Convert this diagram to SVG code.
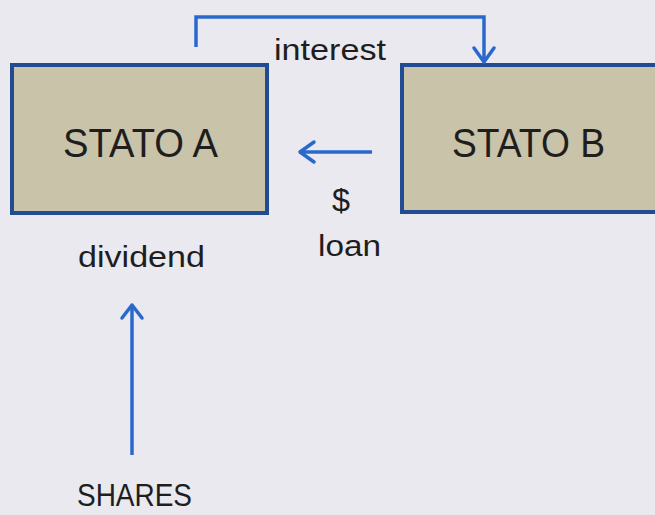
<svg xmlns="http://www.w3.org/2000/svg" width="655" height="515" viewBox="0 0 655 515">
  <style>
    .box { fill: #c8c3a9; stroke: #214c92; stroke-width: 4; }
    .big { font-family: "Liberation Sans", Arial, sans-serif; font-size: 41px; fill: #1e1e1e; }
    .lbl { font-family: "Liberation Sans", Arial, sans-serif; font-size: 29px; fill: #1e1e1e; }
    .lg { font-size: 31px; }
    .wire { fill: none; stroke: #2a68cc; stroke-width: 3.5; }
    .head { fill: none; stroke: #2a68cc; stroke-width: 3.5; stroke-linecap: round; stroke-linejoin: round; }
  </style>
  <rect width="655" height="515" fill="#e9e9ef"/>

  <g id="stato-a">
    <rect class="box" x="12" y="65" width="255" height="148"/>
    <text class="big" x="63" y="157" textLength="155" lengthAdjust="spacingAndGlyphs">STATO A</text>
  </g>

  <g id="stato-b">
    <rect class="box" x="402" y="65" width="260" height="147"/>
    <text class="big" x="452" y="157" textLength="153" lengthAdjust="spacingAndGlyphs">STATO B</text>
  </g>

  <g id="labels">
    <text class="lbl" x="274" y="60" textLength="112" lengthAdjust="spacingAndGlyphs">interest</text>
    <text class="lbl lg" x="332" y="211" textLength="18" lengthAdjust="spacingAndGlyphs">$</text>
    <text class="lbl" x="318" y="256" textLength="63" lengthAdjust="spacingAndGlyphs">loan</text>
    <text class="lbl" x="78" y="267" textLength="127" lengthAdjust="spacingAndGlyphs">dividend</text>
    <text class="lbl lg" x="77" y="506" textLength="115" lengthAdjust="spacingAndGlyphs">SHARES</text>
  </g>

  <g id="connectors">
    <!-- interest: A -> B over the top -->
    <polyline class="wire" points="196,47 196,17 484,17 484,61"/>
    <polyline class="head" points="474,48 484,62 494,48"/>
    <!-- loan: B -> A -->
    <line class="wire" x1="372" y1="152" x2="301" y2="152"/>
    <polyline class="head" points="314,142 300,152 314,162"/>
    <!-- shares -> dividend -->
    <line class="wire" x1="132" y1="455" x2="132" y2="306"/>
    <polyline class="head" points="122,318 132,305 142,318"/>
  </g>
</svg>
